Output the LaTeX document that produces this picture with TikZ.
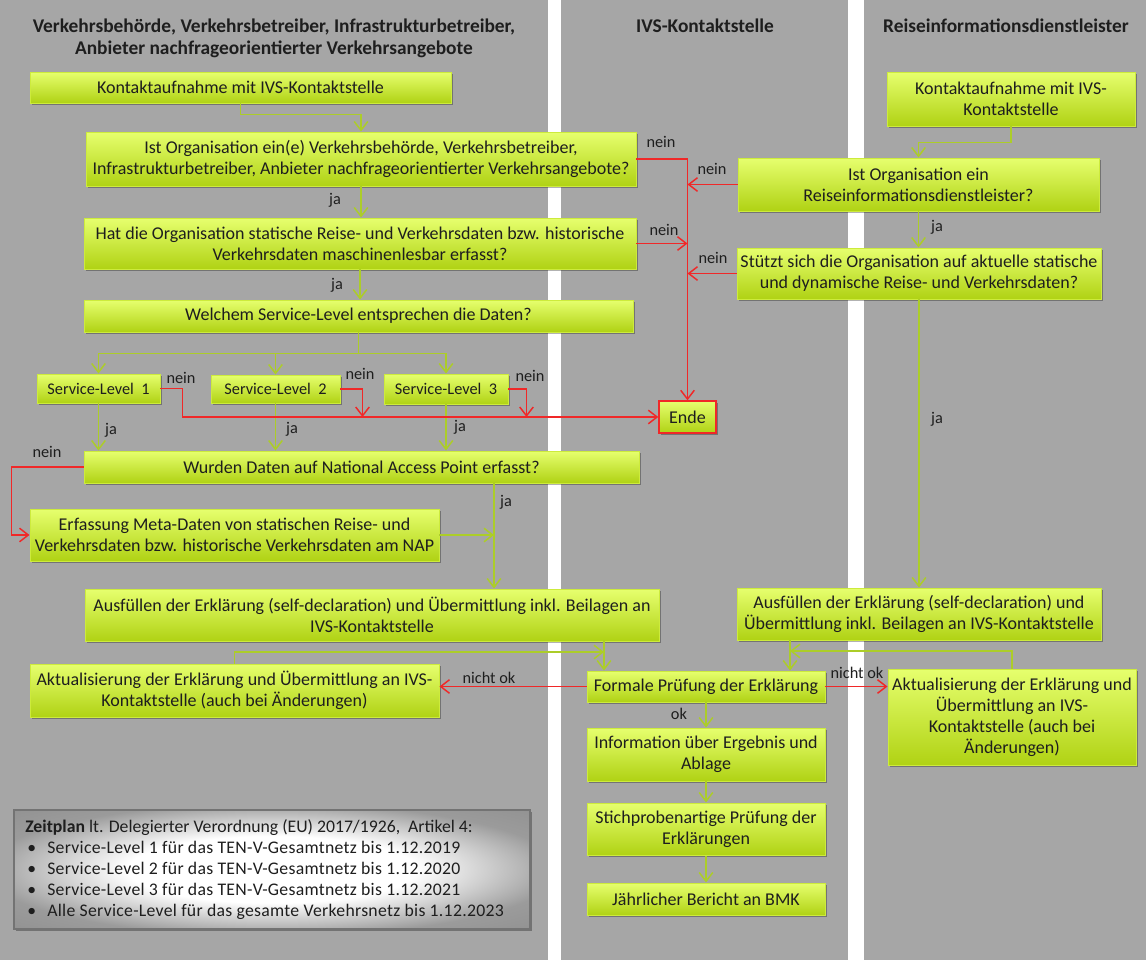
\documentclass[tikz,border=0pt]{standalone}
\usepackage{fontspec}
\setmainfont{Carlito}
\usepackage{tikz}
\usetikzlibrary{arrows.meta,positioning,calc,shadows}
\definecolor{bggray}{RGB}{166,166,166}
\definecolor{boxtop}{RGB}{230,255,110}
\definecolor{boxbot}{RGB}{176,210,20}
\definecolor{boxline}{RGB}{205,235,60}
\definecolor{cja}{RGB}{172,205,40}
\definecolor{cnein}{RGB}{240,40,40}
\definecolor{ctxt}{RGB}{30,30,30}
\definecolor{zgray}{RGB}{155,155,155}
\definecolor{zdark}{RGB}{130,130,130}
\pgfdeclareradialshading{zshade}{\pgfpoint{0bp}{0bp}}{color(0bp)=(white); color(14bp)=(white); color(28bp)=(zgray); color(50bp)=(zdark)}
\newcommand{\bxf}{\fontsize{12.8}{14.9}\selectfont}
\newcommand{\lbf}{\fontsize{11.6}{14.9}\selectfont}
\newcommand{\zbf}{\fontsize{12.6}{14.9}\selectfont}
\newcommand{\hdf}{\fontsize{13.8}{15.6}\selectfont\bfseries}
\newcommand{\bul}{\addfontfeature{LetterSpace=1.6}\hspace*{0.05cm}\makebox[0.5cm][l]{\textbullet}}
\tikzset{
  sz/.style 2 args={minimum width=#1*0.025cm, minimum height=#2*0.025cm},
  box/.style={draw=boxline, line width=0.7pt, top color=boxtop, bottom color=boxbot,
    text=ctxt, font=\bxf, align=center, inner sep=1pt,
    drop shadow={shadow xshift=0.05cm, shadow yshift=-0.06cm, fill=black, opacity=0.3}},
  slbox/.style={box, font=\lbf},
  endbox/.style={box, draw=cnein, line width=1pt},
  zbox/.style={draw=black!55, line width=0.8pt, shading=zshade,
    drop shadow={shadow xshift=0.05cm, shadow yshift=-0.06cm, fill=black, opacity=0.3}},
  hdr/.style={font=\hdf, text=ctxt, align=center},
  lab/.style={font=\lbf, text=ctxt, inner sep=0pt},
  jarr/.style={-{Straight Barb[length=2.2mm, width=3.4mm]}, cja, line width=1.05pt},
  narr/.style={-{Straight Barb[length=2.2mm, width=3.4mm]}, cnein, line width=1.05pt},
}
\begin{document}
\begin{tikzpicture}[x=0.025cm, y=-0.025cm]
% lanes
\fill[bggray] (0,0) rectangle (1146,960);
\useasboundingbox (0,0) rectangle (1146,960);
\fill[white] (548,0) rectangle (561,960);
\fill[white] (848,0) rectangle (864,960);

% lane titles
\node[hdr] (h1) at (274,38) {Verkehrsbehörde, Verkehrsbetreiber, Infrastrukturbetreiber,\\Anbieter nachfrageorientierter Verkehrsangebote};
\node[hdr] (h2) at (705,26) {IVS-Kontaktstelle};
\node[hdr] (h3) at (1006,26) {Reiseinformationsdienstleister};

% left lane
\node[box, sz={421}{31}] (k1) at (240.5,87.5) {Kontaktaufnahme mit IVS-Kontaktstelle};
\node[box, sz={550}{54}] (q1) at (361,159) {Ist Organisation ein(e) Verkehrsbehörde, Verkehrsbetreiber,\\Infrastrukturbetreiber, Anbieter nachfrageorientierter Verkehrsangebote?};
\node[box, sz={552}{51}] (q2) at (360,243.5) {Hat die Organisation statische Reise- und Verkehrsdaten bzw. historische\\Verkehrsdaten maschinenlesbar erfasst?};
\node[box, sz={549}{32}] (q3) at (358.5,316) {Welchem Service-Level entsprechen die Daten?};
\node[slbox, sz={123}{29}] (sl1) at (98.5,388.5) {Service-Level~~1};
\node[slbox, sz={129}{28}] (sl2) at (275.5,389) {Service-Level~~2};
\node[slbox, sz={124}{30}] (sl3) at (446,389) {Service-Level~~3};
\node[box, sz={555}{32}] (q4) at (361.5,467) {Wurden Daten auf National Access Point erfasst?};
\node[box, sz={409}{52}] (e1) at (234.5,535) {Erfassung Meta-Daten von statischen Reise- und\\Verkehrsdaten bzw. historische Verkehrsdaten am NAP};
\node[box, sz={574}{52}] (a1) at (372,615) {Ausfüllen der Erklärung (self-declaration) und Übermittlung inkl. Beilagen an\\IVS-Kontaktstelle};
\node[box, sz={409}{53}] (u1) at (234.5,690.5) {Aktualisierung der Erklärung und Übermittlung an IVS-\\Kontaktstelle (auch bei Änderungen)};

% middle lane
\node[endbox, sz={57}{32}] (ende) at (687.5,417) {Ende};
\node[box, sz={238}{31}] (f) at (706,686.5) {Formale Prüfung der Erklärung};
\node[box, sz={238}{53}] (inf) at (706,754.5) {Information über Ergebnis und\\Ablage};
\node[box, sz={238}{52}] (st) at (706,829) {Stichprobenartige Prüfung der\\Erklärungen};
\node[box, sz={238}{32}] (jb) at (706,899) {Jährlicher Bericht an BMK};

% right lane
\node[box, sz={248}{54}] (rk) at (1011,99) {Kontaktaufnahme mit IVS-\\Kontaktstelle};
\node[box, sz={361}{53}] (rq1) at (918.5,184.5) {Ist Organisation ein\\Reiseinformationsdienstleister?};
\node[box, sz={364}{51}] (rq2) at (919,273.5) {Stützt sich die Organisation auf aktuelle statische\\und dynamische Reise- und Verkehrsdaten?};
\node[box, sz={364}{52}] (a2) at (919,614) {Ausfüllen der Erklärung (self-declaration) und\\Übermittlung inkl. Beilagen an IVS-Kontaktstelle};
\node[box, sz={248}{96}] (u2) at (1012,717) {Aktualisierung der Erklärung und\\Übermittlung an IVS-\\Kontaktstelle (auch bei\\Änderungen)};

% ja paths
\draw[jarr] (k1.south) -- ++(0,11) -| (q1.north);
\draw[jarr] (q1.south) -- (q1.south |- q2.north);
\draw[jarr] (q2.south) -- (q2.south |- q3.north);
\foreach \s in {sl1,sl2,sl3}{
  \draw[jarr] (q3.south) -- ++(0,21) -| (\s.north);
  \draw[jarr] (\s.south) -- (\s.south |- q4.north);}
\coordinate (jn) at (494,535);
\draw[jarr] (q4.south -| jn) -- (a1.north -| jn);
\draw[jarr] (e1.east) -- (jn);
\coordinate (jf) at (604,652);
\draw[jarr] (a1.south -| jf) -- (f.north -| jf);
\draw[jarr] (u1.north) |- (jf);
\coordinate (jg) at (790,651);
\draw[jarr] (a2.south -| jg) -- (f.north -| jg);
\draw[jarr] (u2.north) |- (jg);
\draw[jarr] (f.south) -- (inf.north);
\draw[jarr] (inf.south) -- (st.north);
\draw[jarr] (st.south) -- (jb.north);
\draw[jarr] (rk.south) -- ++(0,16) -| (rq1.north);
\draw[jarr] (rq1.south) -- (rq1.south |- rq2.north);
\draw[jarr] (rq2.south) -- (rq2.south |- a2.north);

% nein paths
\draw[narr] (sl1.east) -- ++(22,0) |- (ende.west);
\draw[narr] (sl2.east) -- ++(22,0) -- ++(0,28);
\draw[narr] (sl3.east) -- ++(18,0) -- ++(0,28);
\draw[narr] (q1.east) -- (q1.east -| ende.north) -- (ende.north);
\foreach \s in {q2.east, rq1.west, rq2.west}
  \draw[narr] (\s) -- (\s -| ende.north);
\draw[narr] (q4.west) -- ++(-72,0) |- (e1.west);
\draw[narr] (f.west) -- (f.west -| u1.east);
\draw[narr] (f.east) -- (f.east -| u2.west);

% labels
\foreach \x/\y/\t [count=\i] in {335/200/ja, 337/285/ja, 111/430/ja, 292/429/ja, 460/427/ja,
    506/502/ja, 937/227/ja, 937/419/ja, 181/378/nein, 360/374/nein, 530/376/nein,
    661/142/nein, 664/230/nein, 712/169/nein, 713/258/nein, 47/452/nein,
    489/678/nicht ok, 857/673/nicht ok, 679/714/ok}
  \node[lab] (lb\i) at (\x,\y) {\t};

% Zeitplan
\node[zbox, sz={516}{119}] (zeit) at (272,869.5) {};
\node[lab, font=\zbf, anchor=west, align=left] (zeittxt) at (25,869.5) {\textbf{Zeitplan} lt. Delegierter Verordnung (EU) 2017/1926,~ Artikel 4:\\
\bul Service-Level 1 für das TEN-V-Gesamtnetz bis 1.12.2019\\
\bul Service-Level 2 für das TEN-V-Gesamtnetz bis 1.12.2020\\
\bul Service-Level 3 für das TEN-V-Gesamtnetz bis 1.12.2021\\
\bul Alle Service-Level für das gesamte Verkehrsnetz bis 1.12.2023};
\end{tikzpicture}
\end{document}
